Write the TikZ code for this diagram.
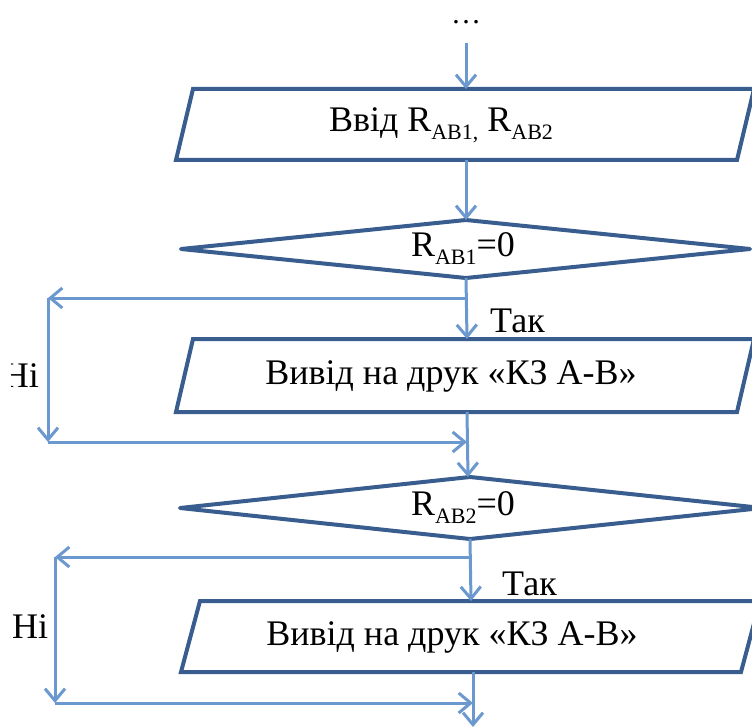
\documentclass[tikz,border=0pt]{standalone}
\usepackage{fontspec}
\setmainfont{Liberation Serif}
\usetikzlibrary{arrows.meta}
\definecolor{boxc}{RGB}{56,93,142}
\definecolor{linec}{RGB}{108,152,208}
\newcommand\sbs[1]{\raisebox{-0.22em}{\fontsize{22}{24}\selectfont #1}}
\begin{document}
\begin{tikzpicture}[x=1pt,y=1pt,
  box/.style={draw=boxc,line width=4pt,line join=miter},
  dbox/.style={draw=boxc,line width=4pt,line join=round},
  conn/.style={draw=linec,line width=3pt,-{Straight Barb[length=12pt,width=20pt]}},
  lbl/.style={font=\fontsize{36}{40}\selectfont,inner sep=0pt,text=black}]
\useasboundingbox (0,0) rectangle (752,-727);

% start
\node[lbl,anchor=base] (dots) at (466,-24) {\fontsize{30}{32}\selectfont …};
\coordinate (s0) at (466,-43);

% input box
\draw[box] (193,-89) -- (754,-89) -- (737,-160) -- (176,-160) -- cycle;
\coordinate (p1t) at (466,-89);
\coordinate (p1b) at (466,-160);
\node[lbl] (p1) at (441,-125) {Ввід R\sbs{AB1,} R\sbs{AB2}};

% decision 1
\draw[dbox] (466,-220) -- (750,-249) -- (466,-278) -- (181,-249) -- cycle;
\coordinate (d1t) at (466,-220);
\coordinate (d1b) at (466,-278);
\node[lbl] (d1) at (463,-249) {R\sbs{AB1}=0};

% output box 1
\draw[box] (193,-339) -- (754,-339) -- (737,-412) -- (176,-412) -- cycle;
\coordinate (p2t) at (467,-339);
\coordinate (p2b) at (467,-412);
\node[lbl] (p2) at (451,-376) {Вивід на друк «КЗ А-В»};

% decision 2
\draw[dbox] (470,-477) -- (762,-508) -- (470,-539) -- (180,-508) -- cycle;
\coordinate (d2t) at (468,-477);
\coordinate (d2b) at (470,-539);
\node[lbl] (d2) at (463,-508) {R\sbs{AB2}=0};

% output box 2
\draw[box] (200,-601) -- (760,-601) -- (741,-672) -- (181,-672) -- cycle;
\coordinate (p3t) at (471,-601);
\coordinate (p3b) at (473,-672);
\node[lbl] (p3) at (452,-637) {Вивід на друк «КЗ А-В»};
\coordinate (e0) at (473,-727);

% connectors main flow
\draw[conn] (s0) -- (p1t);
\draw[conn] (p1b) -- (d1t);
\draw[conn] (d1b) -- (p2t);
\draw[conn] (p2b) -- (d2t);
\draw[conn] (d2b) -- (p3t);
\draw[conn] (p3b) -- (e0);

% bypass 1
\coordinate (b1) at (467,-298);
\coordinate (l1) at (48,-298);
\coordinate (l1b) at (48,-442);
\coordinate (j1) at (467,-442);
\draw[conn] (b1) -- (l1);
\draw[conn] (l1) -- (l1b);
\draw[conn] (l1b) -- (j1);

% bypass 2
\coordinate (b2) at (470,-557);
\coordinate (l2) at (55,-557);
\coordinate (l2b) at (55,-703);
\coordinate (j2) at (473,-703);
\draw[conn] (b2) -- (l2);
\draw[conn] (l2) -- (l2b);
\draw[conn] (l2b) -- (j2);

% labels
\node[lbl,anchor=base west] (tak1) at (490,-332) {Так};
\node[lbl,anchor=base west] (tak2) at (502,-595) {Так};
\begin{scope}
  \clip (11,-340) rectangle (45,-400);
  \node[lbl,anchor=base east] (ni1) at (39,-387) {Ні};
\end{scope}
\node[lbl,anchor=base west] (ni2) at (12,-638) {Ні};
\end{tikzpicture}
\end{document}
